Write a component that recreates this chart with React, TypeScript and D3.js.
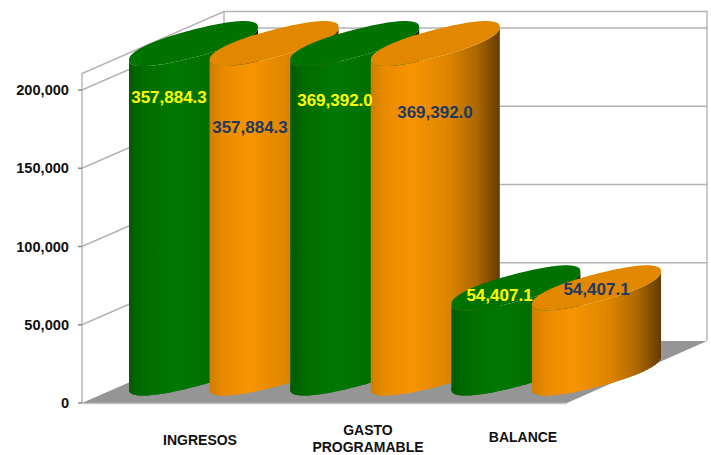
import React from "react";
import * as d3 from "d3";

const categories = ["INGRESOS", "GASTO PROGRAMABLE", "BALANCE"];
const seriesGreen = [357884.3, 369392.0, 54407.1];
const seriesOrange = [357884.3, 369392.0, 54407.1];
const yTicks = [0, 50000, 100000, 150000, 200000];
const gridTicks = [50000, 100000, 150000, 200000];
const axisMax = 210500;

const W = 711, H = 455;
const y = d3.scaleLinear().domain([0, 200000]).range([403, 90]);
const depth = { dx: 142, dy: -62 };
const floorRight = 567 - 82;
const xLeft = 82;
const slots = d3.range(6);
const xSlot = d3.scalePoint<number>().domain(slots).range([193.5, 596.5]);
const A = 64.5, B1 = -16.5, B2 = 14, centerDy = -30, Q = 0.88;
const fmt = d3.format(",.1f");
const tickFmt = d3.format(",");
const valueY = (v: number) => y(Math.min(v, axisMax));

// label placement: centre x, baseline y
const labelPos: [number, number][] = [
  [169, 103], [250, 133], [335, 106], [435, 118], [499.5, 301], [596.5, 295],
];
const catPos: { lines: string[]; x: number; y: number[] }[] = [
  { lines: ["INGRESOS"], x: 200, y: [445] },
  { lines: ["GASTO", "PROGRAMABLE"], x: 368, y: [435, 452] },
  { lines: ["BALANCE"], x: 523, y: [442] },
];

const spow = (v: number) => Math.sign(v) * Math.pow(Math.abs(v), Q);
const pt = (cx: number, cy: number, t: number): [number, number] => {
  const u = spow(Math.cos(t));
  const v = spow(Math.sin(t));
  return [cx + A * u, cy + B1 * u + B2 * v];
};
const line = d3.line<[number, number]>();
const ellipsePath = (cx: number, cy: number) =>
  line(d3.range(0, 145).map((i) => pt(cx, cy, (i / 144) * 2 * Math.PI))) + "Z";
const bodyPath = (cx: number, cyTop: number, cyBot: number) => {
  const front = d3.range(0, 73).map((i) => (i / 72) * Math.PI);
  const bottom = front.map((t) => pt(cx, cyBot, t));
  const top = front.map((t) => pt(cx, cyTop, t)).reverse();
  return line([...bottom, ...top]) + "Z";
};

const stopsGreen: [string, string][] = [
  ["0%", "#005c00"], ["12%", "#006c00"], ["35%", "#007800"], ["65%", "#006e00"], ["88%", "#004800"], ["100%", "#002a00"],
];
const stopsOrange: [string, string][] = [
  ["0%", "#d27d00"], ["12%", "#ea8c00"], ["32%", "#f79400"], ["60%", "#dd8500"], ["82%", "#ac6700"], ["100%", "#633b00"],
];

export default function App() {
  const bars = categories.flatMap((_, i) => [
    { v: seriesGreen[i], slot: i * 2, grad: "gGreen", top: "#007200", label: "#ffff00" },
    { v: seriesOrange[i], slot: i * 2 + 1, grad: "gOrange", top: "#e28700", label: "#1f3864" },
  ]);
  const y0 = y(0);
  const yTop = y(axisMax);
  const grid = "#b4b4b4";
  return (
    <svg width={W} height={H} style={{ position: "absolute", left: 0, top: 0, background: "#fff" }} fontFamily="'Liberation Sans', Arial, sans-serif">
      <defs>
        {[["gGreen", stopsGreen], ["gOrange", stopsOrange]].map(([id, stops]) => (
          <linearGradient key={id as string} id={id as string} x1="0" x2="1" y1="0" y2="0">
            {(stops as [string, string][]).map(([o, c]) => <stop key={o} offset={o} stopColor={c} />)}
          </linearGradient>
        ))}
      </defs>
      {/* floor */}
      <polygon
        points={[[xLeft, y0], [xLeft + floorRight, y0], [xLeft + floorRight + depth.dx - 2, y0 + depth.dy], [xLeft + depth.dx, y0 + depth.dy]].map((p) => p.join(",")).join(" ")}
        fill="#959595"
      />
      {/* walls */}
      <g fill="none" stroke={grid} strokeWidth={1.4}>
        <polyline points={`${xLeft},${y0} ${xLeft},${yTop} ${xLeft + depth.dx},${yTop + depth.dy} ${707},${yTop + depth.dy} ${707},${y0 + depth.dy}`} />
        <line x1={xLeft + depth.dx} x2={xLeft + depth.dx} y1={yTop + depth.dy} y2={y0 + depth.dy} />
        {gridTicks.map((t) => (
          <polyline key={t} points={`${xLeft},${y(t)} ${xLeft + depth.dx},${y(t) + depth.dy} ${707},${y(t) + depth.dy}`} />
        ))}
        <line x1={xLeft} x2={xLeft + floorRight} y1={y0 + 0.5} y2={y0 + 0.5} stroke="#c4c4c4" />
        {yTicks.map((t) => <line key={t} x1={xLeft - 4} x2={xLeft} y1={y(t)} y2={y(t)} stroke="#808080" />)}
      </g>
      {/* cylinders */}
      {bars.map((b) => {
        const cx = xSlot(b.slot) as number;
        const cyBot = y0 + centerDy;
        const cyTop = valueY(b.v) + centerDy;
        return (
          <g key={b.slot}>
            <path d={ellipsePath(cx, cyBot)} fill={`url(#${b.grad})`} />
            <path d={bodyPath(cx, cyTop, cyBot)} fill={`url(#${b.grad})`} />
            <path d={ellipsePath(cx, cyTop)} fill={b.top} />
          </g>
        );
      })}
      {/* value labels */}
      {bars.map((b, i) => (
        <text key={b.slot} x={labelPos[i][0]} y={labelPos[i][1]} textAnchor="middle" fontSize={17} fontWeight="bold" fill={b.label}>
          {fmt(b.v)}
        </text>
      ))}
      {/* axis labels */}
      {yTicks.map((t) => (
        <text key={t} x={69} y={y(t) + 5} textAnchor="end" fontSize={14.6} fontWeight="bold" fill="#111">
          {tickFmt(t)}
        </text>
      ))}
      {catPos.map((c) => c.lines.map((l, j) => (
        <text key={l} x={c.x} y={c.y[j]} textAnchor="middle" fontSize={14} fontWeight="bold" fill="#111">{l}</text>
      )))}
    </svg>
  );
}
